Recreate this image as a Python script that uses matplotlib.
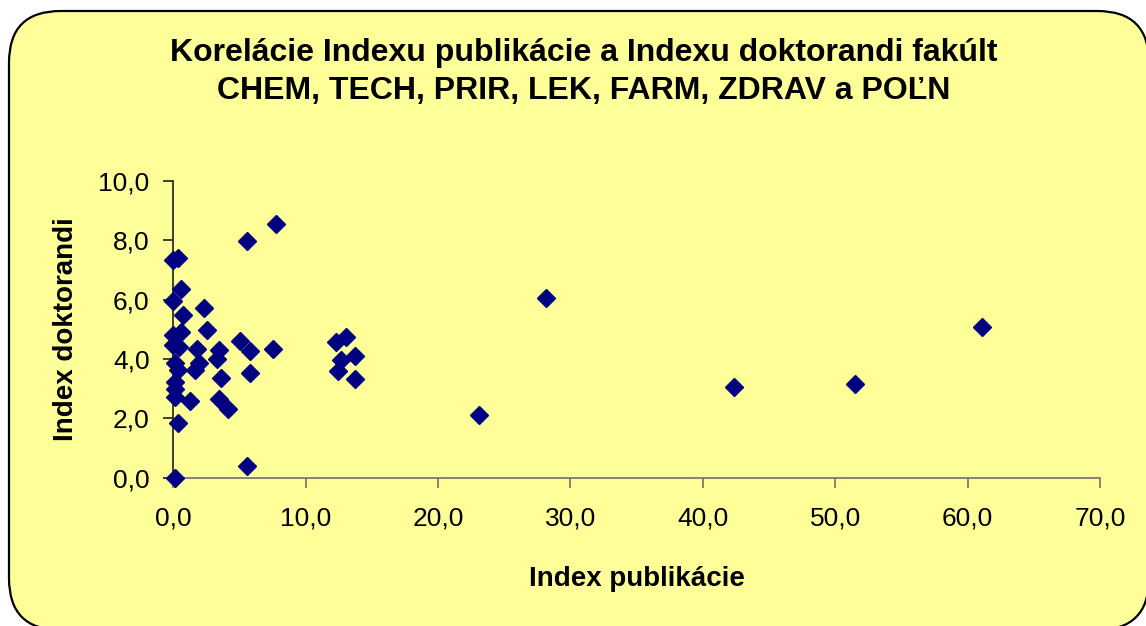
import matplotlib.pyplot as plt
from matplotlib.patches import FancyBboxPatch
from matplotlib.ticker import FuncFormatter, MultipleLocator

plt.rcParams['font.family'] = ['Liberation Sans', 'DejaVu Sans']

# Index publikácie / Index doktorandi per pracovisko
index_publikacie = [
    7.73, 5.59, 0.0, 0.38, 0.56, 0.0, 2.34, 0.71, 2.52, 0.56,
    0.0, 0.0, 0.45, 1.81, 5.04, 5.79, 7.55, 3.45, 3.27, 1.96,
    1.64, 0.13, 0.38, 3.60, 5.79, 0.13, 0.13, 0.13, 1.26, 3.43,
    4.16, 0.38, 5.59, 0.13,
    12.29, 13.02, 13.72, 12.64, 12.41, 13.72,
    28.15, 23.09, 42.34, 51.48, 61.1,
]
index_doktorandi = [
    8.55, 7.99, 7.33, 7.42, 6.37, 5.96, 5.72, 5.48, 4.99, 4.91,
    4.80, 4.47, 4.41, 4.35, 4.60, 4.26, 4.34, 4.30, 4.01, 3.88,
    3.62, 3.85, 3.64, 3.37, 3.54, 3.23, 3.00, 2.72, 2.58, 2.64,
    2.33, 1.84, 0.39, 0.0,
    4.58, 4.75, 4.10, 3.96, 3.60, 3.31,
    6.05, 2.10, 3.05, 3.15, 5.08,
]

bg = '#FFFF99'
W, H = 1146, 626

fig = plt.figure(figsize=(W / 100, H / 100), dpi=100)
fig.patch.set_facecolor('white')

# ramik grafu so zaoblenymi rohmi
frame = FancyBboxPatch((9 / W, -4 / H), 1140 / W, 619 / H,
                       boxstyle='round,pad=0,rounding_size=0.045',
                       transform=fig.transFigure, facecolor=bg,
                       edgecolor='black', linewidth=1.6, zorder=-1,
                       mutation_aspect=W / H)
fig.patches.append(frame)

ax = fig.add_axes([173.3 / W, 1 - 477.7 / H, 926.7 / W, 296.7 / H])
ax.patch.set_alpha(0)

ax.plot(index_publikacie, index_doktorandi, linestyle='none', marker='D',
        markersize=9, color='#000080', clip_on=False, zorder=3)

ax.set_xlim(0, 70)
ax.set_ylim(0, 10)
ax.xaxis.set_major_locator(MultipleLocator(10))
ax.yaxis.set_major_locator(MultipleLocator(2))
fmt = FuncFormatter(lambda v, p: f'{v:.1f}'.replace('.', ','))
ax.xaxis.set_major_formatter(fmt)
ax.yaxis.set_major_formatter(fmt)

for s in ['top', 'right']:
    ax.spines[s].set_visible(False)
ax.spines['left'].set_color('#202020')
ax.spines['bottom'].set_color('#707070')
ax.spines['left'].set_linewidth(1.2)
ax.spines['bottom'].set_linewidth(1.2)
ax.tick_params(axis='both', direction='out', length=7, width=1.2,
               labelsize=19, colors='black')
ax.tick_params(axis='x', color='#707070', pad=14)
ax.tick_params(axis='y', color='#202020', pad=10)

ax.set_xlabel('Index publikácie', fontsize=20, fontweight='bold', labelpad=25)
ax.set_ylabel('Index doktorandi', fontsize=20, fontweight='bold', labelpad=14)

fig.text(0.509, 0.885, 'Korelácie Indexu publikácie a Indexu doktorandi fakúlt\n'
         'CHEM, TECH, PRIR, LEK, FARM, ZDRAV a POĽN',
         ha='center', va='center', fontsize=23, fontweight='bold',
         linespacing=1.35)

fig.savefig('out.png', dpi=100, facecolor=fig.get_facecolor())
